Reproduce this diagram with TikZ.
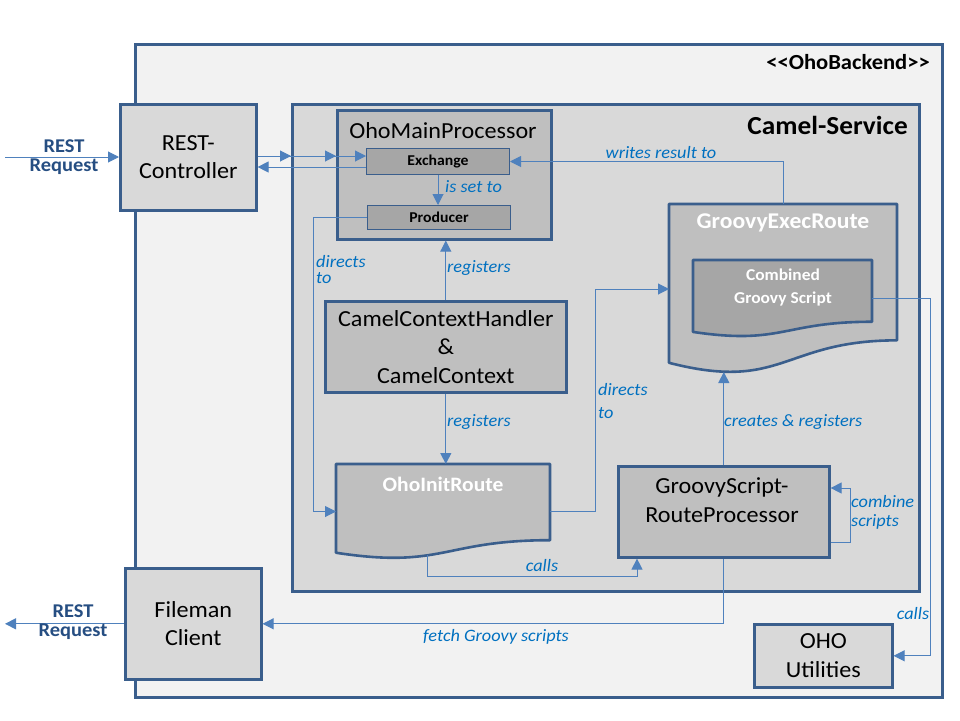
\documentclass[tikz,border=0pt]{standalone}
\usepackage{fontspec}
\setmainfont{Carlito}[FakeStretch=1.05,Ligatures=TeXOff]
\usetikzlibrary{arrows.meta,calc}
\definecolor{bordc}{RGB}{58,94,140}
\definecolor{linec}{RGB}{79,129,189}
\definecolor{labc}{RGB}{0,112,192}
\definecolor{restc}{RGB}{38,78,130}
\definecolor{bgouter}{RGB}{242,242,242}
\definecolor{gA}{RGB}{217,217,217}
\definecolor{gB}{RGB}{191,191,191}
\definecolor{gC}{RGB}{166,166,166}
\newcommand{\fmain}{\fontsize{23}{28.5}\selectfont}
\newcommand{\flab}{\fontsize{17.4}{16}\selectfont\itshape}
\newcommand{\fsmall}{\fontsize{15}{18}\selectfont\bfseries}
\newcommand{\frest}{\fontsize{19.5}{19}\selectfont\bfseries}
\newcommand{\fcamel}{\fontsize{26}{30}\selectfont\bfseries}
\newcommand{\fback}{\fontsize{21.5}{24}\selectfont\bfseries}
\newcommand{\docshape}[6]{%
 \node[inner sep=0pt, outer sep=0pt, anchor=north west, minimum width=#4pt, minimum height=#5pt] (#1) at (#2,#3) {};
 \filldraw[fill=#6, draw=bordc, line width=2.6pt, line join=round]
 (#1.north west) -- (#1.north east) -- ($(#1.north east)!0.802!(#1.south east)$)
 .. controls ($(#1.north)!0.802!(#1.south)$) and ($(#1.north)!1.107!(#1.south)$) ..
 ($(#1.north west)!0.934!(#1.south west)$) -- cycle;}
\begin{document}
\begin{tikzpicture}[x=1pt,y=-1pt,
 box/.style={draw=bordc, line width=2.6pt, anchor=north west, inner sep=0pt, align=center, font=\fmain},
 subbox/.style={draw=bordc, line width=1pt, fill=gC, anchor=north west, inner sep=0pt, font=\fsmall},
 conn/.style={draw=linec, line width=1pt},
 arr/.style={conn, -{Triangle[length=11pt,width=11pt]}},
 lab/.style={text=labc, font=\flab, inner sep=0pt, align=left},
 restlab/.style={text=restc, font=\frest, inner sep=0pt, align=center},
 doctitle/.style={text=white, inner sep=0pt, align=center}]
\useasboundingbox (0,0) rectangle (960,720);
% containers
\node[box, fill=bgouter, minimum width=807pt, minimum height=653pt] (backend) at (134,43) {};
\node[anchor=east, font=\fback, inner sep=0pt] (backendlab) at (930,62) {<<OhoBackend>>};
\node[box, fill=gA, minimum width=627pt, minimum height=487pt] (camel) at (291,103) {};
\node[anchor=east, font=\fcamel, inner sep=0pt] (camellab) at (908,125) {Camel-Service};
% outside boxes
\node[box, fill=gA, minimum width=136pt, minimum height=106pt] (rc) at (119,103) {REST-\\Controller};
\node[box, fill=gA, minimum width=136pt, minimum height=111pt] (fm) at (124,567) {Fileman\\Client};
\node[box, fill=gA, minimum width=138pt, minimum height=63pt] (oho) at (753,623) {OHO\\Utilities};
% main processor
\node[box, fill=gB, minimum width=214pt, minimum height=129pt] (omp) at (336,109) {};
\node[font=\fmain, inner sep=0pt] (omplab) at (443,131) {OhoMainProcessor};
\node[subbox, minimum width=143pt, minimum height=26pt] (ex) at (366,148) {Exchange};
\node[subbox, minimum width=143pt, minimum height=24pt] (prod) at (367,205) {Producer};
% context handler
\node[box, fill=gB, minimum width=241pt, minimum height=91pt] (cch) at (324,300) {CamelContextHandler\\\&\\CamelContext};
% groovy script route processor
\node[box, fill=gB, minimum width=211pt, minimum height=91pt] (gsrp) at (617,465) {};
\node[font=\fmain, align=center, inner sep=0pt] (gsrplab) at (722,500) {GroovyScript-\\RouteProcessor};
% document shapes
\docshape{oir}{336}{464}{214}{95}{gB}
\node[doctitle, font=\fontsize{20.5}{24}\selectfont\bfseries] (oirlab) at (443,484) {OhoInitRoute};
\docshape{ger}{669}{204}{228}{170}{gB}
\node[doctitle, font=\fontsize{22.5}{26}\selectfont\bfseries] (gerlab) at (783,223) {GroovyExecRoute};
\docshape{cgs}{693}{260}{179}{77}{gC}
\node[doctitle, font=\fontsize{16.6}{23}\selectfont\bfseries] (cgslab) at (783,287) {Combined\\Groovy Script};
% helper coordinates
\coordinate (restin) at (5,157);
\coordinate (restout) at (5,622);
\coordinate (yin) at (0,156);
\coordinate (yback) at (0,167);
\coordinate (xl) at (313,0);
\coordinate (xr) at (595,0);
\coordinate (oirbot) at (427,555);
\coordinate (ycalls) at (0,576);
\coordinate (xcalls) at (637,0);
\coordinate (gerbot) at (723,372);
\coordinate (ylt) at (0,488);
\coordinate (ylb) at (0,542);
\coordinate (xloop) at (850,0);
\coordinate (xw) at (783,0);
\coordinate (xo) at (930,0);
% REST request in
\draw[arr] (restin) -- (restin -| rc.west);
\node[restlab] (restinlab) at (64,157) {REST\\Request};
% REST-Controller <-> Exchange
\draw[arr] (rc.east |- yin) -- (camel.west |- yin);
\draw[arr] (rc.east |- yin) -- (omp.west |- yin);
\draw[arr] (rc.east |- yin) -- (ex.west |- yin);
\draw[arr] (ex.west |- yback) -- (rc.east |- yback);
% is set to
\draw[arr] (ex.south) -- (prod.north -| ex.south);
\node[lab, anchor=west] (l1) at (445,187) {is set to};
% directs to (producer -> init route)
\draw[arr] (prod.west) -- (prod.west -| xl) -- (xl |- oir.west) -- (oir.west);
\node[lab, anchor=west] (l2) at (316,270) {directs\\to};
% registers
\draw[arr] (cch.north) -- (cch.north |- omp.south);
\node[lab, anchor=west] (l3) at (447,268) {registers};
\draw[arr] (cch.south) -- (cch.south |- oir.north);
\node[lab, anchor=west] (l4) at (447,422) {registers};
% directs to (init route -> exec route)
\draw[arr] (oir.east) -- (oir.east -| xr) -- (xr |- ger.west) -- (ger.west);
\node[lab, anchor=west] (l5) at (598,401) {directs\\[7pt]to};
% calls
\draw[arr] (oirbot) -- (oirbot |- ycalls) -- (xcalls |- ycalls) -- (xcalls |- gsrp.south);
\node[lab] (l6) at (542,566) {calls};
% creates & registers
\draw[arr] (gsrp.north) -- (gsrp.north |- gerbot);
\node[lab, anchor=west] (l7) at (724,422) {creates \& registers};
% combine scripts
\draw[arr] (gsrp.east |- ylb) -- (xloop |- ylb) -- (xloop |- ylt) -- (gsrp.east |- ylt);
\node[lab, anchor=west] (l8) at (851,512) {combine\\[3pt]scripts};
% writes result to
\draw[arr] (xw |- ger.north) -- (xw |- ex.east) -- (ex.east);
\node[lab] (l9) at (661,153) {writes result to};
% calls OHO utilities
\draw[arr] (cgs.east) -- (cgs.east -| xo) -- (xo |- oho.east) -- (oho.east);
\node[lab] (l10) at (913,614) {calls};
% fetch groovy scripts
\draw[arr] (gsrp.south) -- (gsrp.south |- fm.east) -- (fm.east);
\node[lab] (l11) at (496,637) {fetch Groovy scripts};
% REST request out
\draw[arr] (fm.west) -- (fm.west -| restout);
\node[restlab] (restoutlab) at (73,622) {REST\\Request};
\end{tikzpicture}
\end{document}
